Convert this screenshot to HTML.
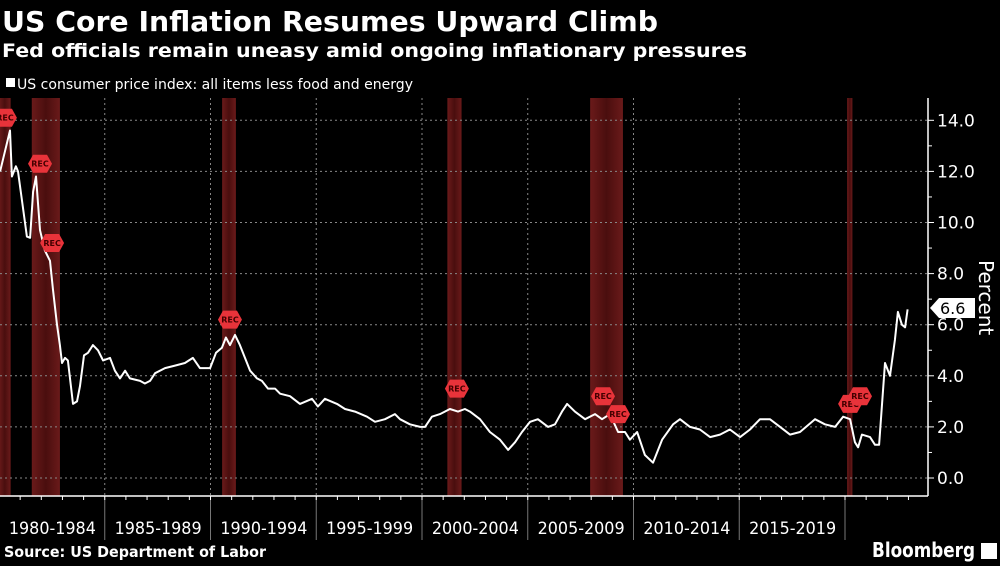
<!DOCTYPE html>
<html><head><meta charset="utf-8"><style>
body{margin:0;background:#000;width:1000px;height:562px;overflow:hidden;font-family:"DejaVu Sans",sans-serif;color:#fff}
text{font-family:"DejaVu Sans","Liberation Sans",sans-serif}
</style></head><body>
<svg width="1000" height="562" xmlns="http://www.w3.org/2000/svg" id="svg">
<defs>
<linearGradient id="rg" x1="0" x2="1"><stop offset="0" stop-color="#6a1a1a"/><stop offset="0.5" stop-color="#4a0e0e"/><stop offset="1" stop-color="#6a1a1a"/></linearGradient>
</defs>
<text x="2" y="31" font-size="28" font-weight="bold" fill="#fff" textLength="656" lengthAdjust="spacingAndGlyphs">US Core Inflation Resumes Upward Climb</text>
<text x="2" y="57" font-size="19" font-weight="bold" fill="#fff" textLength="745" lengthAdjust="spacingAndGlyphs">Fed officials remain uneasy amid ongoing inflationary pressures</text>
<rect x="6" y="78" width="9" height="9" fill="#fff"/>
<text x="17" y="89" font-size="14" fill="#fff" textLength="396" lengthAdjust="spacingAndGlyphs">US consumer price index: all items less food and energy</text>
<g id="bands"></g>
<g id="grid"></g>
<g id="axes"></g>
<path id="line" fill="none" stroke="#fff" stroke-width="2" stroke-linejoin="round"/>
<g id="recs"></g>
<g>
<path d="M930,308 L939,298 L975,298 L975,318 L939,318 Z" fill="#fff"/>
<text x="940" y="314" font-size="16" fill="#000">6.6</text>
</g>
<text x="0" y="0" font-size="20" fill="#fff" transform="translate(979,260) rotate(90)">Percent</text>
<text x="4" y="557" font-size="15" font-weight="bold" fill="#fff" textLength="262" lengthAdjust="spacingAndGlyphs">Source: US Department of Labor</text>
<text x="872" y="557" font-size="20" font-weight="bold" fill="#fff" textLength="103" lengthAdjust="spacingAndGlyphs">Bloomberg</text>
<rect x="981" y="543" width="16" height="16" fill="#fff"/>
</svg>
<script>
const years=[1980.05,1980.52,1980.61,1980.80,1980.90,1981.32,1981.47,1981.61,1981.75,1981.94,1982.17,1982.41,1982.55,1982.74,1982.88,1982.98,1983.12,1983.26,1983.50,1983.69,1983.83,1984.02,1984.21,1984.44,1984.68,1984.92,1985.25,1985.48,1985.72,1985.96,1986.19,1986.67,1986.90,1987.14,1987.38,1987.85,1988.32,1988.79,1989.17,1989.50,1989.98,1990.26,1990.54,1990.73,1990.92,1991.16,1991.39,1991.87,1992.20,1992.43,1992.72,1993.05,1993.29,1993.76,1994.23,1994.80,1995.08,1995.41,1995.98,1996.36,1996.83,1997.40,1997.78,1998.25,1998.72,1998.96,1999.43,1999.91,2000.14,2000.47,2000.85,2001.32,2001.70,2002.03,2002.27,2002.74,2003.21,2003.69,2004.07,2004.40,2004.73,2005.11,2005.48,2005.96,2006.29,2006.62,2006.86,2007.23,2007.71,2008.18,2008.51,2008.89,2009.27,2009.60,2009.83,2010.17,2010.54,2010.92,2011.35,2011.87,2012.20,2012.67,2013.14,2013.62,2014.09,2014.56,2015.04,2015.51,2015.98,2016.45,2016.93,2017.40,2017.87,2018.58,2019.05,2019.53,2019.91,2020.24,2020.47,2020.62,2020.80,2021.18,2021.42,2021.61,2021.89,2022.13,2022.36,2022.50,2022.69,2022.84,2022.96];
const values=[12.0,13.6,11.8,12.2,12.0,9.45,9.4,11.2,11.8,9.7,8.9,8.5,7.4,6.0,5.2,4.5,4.7,4.6,2.9,3.0,3.6,4.8,4.9,5.2,5.0,4.6,4.7,4.2,3.9,4.2,3.9,3.8,3.7,3.8,4.1,4.3,4.4,4.5,4.7,4.3,4.3,4.9,5.1,5.5,5.2,5.6,5.2,4.2,3.9,3.8,3.5,3.5,3.3,3.2,2.9,3.1,2.8,3.1,2.9,2.7,2.6,2.4,2.2,2.3,2.5,2.3,2.1,2.0,2.0,2.4,2.5,2.7,2.6,2.7,2.6,2.3,1.8,1.5,1.1,1.4,1.8,2.2,2.3,2.0,2.1,2.6,2.9,2.6,2.3,2.5,2.3,2.5,1.8,1.8,1.5,1.8,0.9,0.6,1.5,2.1,2.3,2.0,1.9,1.6,1.7,1.9,1.6,1.9,2.3,2.3,2.0,1.7,1.8,2.3,2.1,2.0,2.4,2.3,1.4,1.2,1.7,1.6,1.3,1.3,4.5,4.0,5.4,6.5,6.0,5.9,6.6];
const yTicks=[0,2,4,6,8,10,12,14];
const periodLabels=["1980-1984","1985-1989","1990-1994","1995-1999","2000-2004","2005-2009","2010-2014","2015-2019"];
const recStart=[1980.0,1981.55,1990.55,2001.2,2007.95,2020.1];
const recEnd=[1980.55,1982.88,1991.2,2001.87,2009.5,2020.35];
const recMarkYears=[1980.28,1981.94,1982.51,1990.92,2001.65,2008.56,2009.27,2020.24,2020.71];
const recMarkValues=[14.1,12.3,9.2,6.2,3.5,3.2,2.5,2.9,3.2];

const NS="http://www.w3.org/2000/svg";
const X=y=>-1+(y-1980)*21.15;
const Y=v=>478-v*25.55;
const TOP=98,BOT=496,AX=928;
function mk(tag,at,parent){const e=document.createElementNS(NS,tag);for(const k in at)e.setAttribute(k,at[k]);document.getElementById(parent).appendChild(e);return e;}

recStart.forEach((s,i)=>{
 const r=mk('rect',{x:X(s),y:TOP,width:Math.max(3,X(recEnd[i])-X(s)),height:BOT-TOP,fill:'url(#rg)'},'bands');
 
 
});
yTicks.forEach(t=>{
 const g=mk('line',{x1:0,x2:AX,y1:Y(t),y2:Y(t),stroke:'#888','stroke-width':1,'stroke-dasharray':'2,3'},'grid');
 
 
 mk('line',{x1:AX,x2:AX+6,y1:Y(t),y2:Y(t),stroke:'#fff'},'axes');
 if(t<14) mk('line',{x1:AX,x2:AX+4,y1:Y(t+1),y2:Y(t+1),stroke:'#fff'},'axes');
 const tx=mk('text',{x:AX+9,y:Y(t)+6,'font-size':17,fill:'#fff'},'axes');
 tx.textContent=t.toFixed(1);
 
 
});
periodLabels.forEach((p,i)=>{
 const x0=X(1980+5*i),x1=X(1985+5*i);
 if(i>0){const v=mk('line',{x1:x0,x2:x0,y1:TOP,y2:BOT,stroke:'#888','stroke-dasharray':'2,3'},'grid');
  
  }
 mk('line',{x1:x1,x2:x1,y1:BOT,y2:540,stroke:'#777'},'axes');
 const tx=mk('text',{x:(x0+x1)/2-43,y:534,'font-size':17,fill:'#fff',textLength:87,lengthAdjust:'spacingAndGlyphs'},'axes');
 tx.textContent=p;
 
 
});
for(let y=1980;y<=2023;y++) mk('line',{x1:X(y),x2:X(y),y1:BOT,y2:BOT+4,stroke:'#fff'},'axes');
const xa=mk('line',{x1:0,x2:AX,y1:BOT,y2:BOT,stroke:'#fff','stroke-width':1.5},'axes');


const ya=mk('line',{x1:AX,x2:AX,y1:TOP,y2:BOT,stroke:'#fff','stroke-width':1.5},'axes');



document.getElementById('line').setAttribute('d',years.map((y,i)=>(i?'L':'M')+X(y).toFixed(1)+','+Y(values[i]).toFixed(1)).join(''));

recMarkYears.forEach((yr,i)=>{
 const cx=X(yr),cy=Y(recMarkValues[i]);
 const g=mk('g',{},'recs');
 
 
 const p=document.createElementNS(NS,'path');
 p.setAttribute('d',`M${cx-12},${cy} L${cx-7},${cy-9} L${cx+7},${cy-9} L${cx+12},${cy} L${cx+7},${cy+9} L${cx-7},${cy+9} Z`);
 p.setAttribute('fill','#e8333a');g.appendChild(p);
 const t=document.createElementNS(NS,'text');
 t.setAttribute('x',cx);t.setAttribute('y',cy+3);t.setAttribute('font-size',8);t.setAttribute('font-weight','bold');
 t.setAttribute('fill','#400');t.setAttribute('text-anchor','middle');t.textContent='REC';g.appendChild(t);
});
</script>
</body></html>
